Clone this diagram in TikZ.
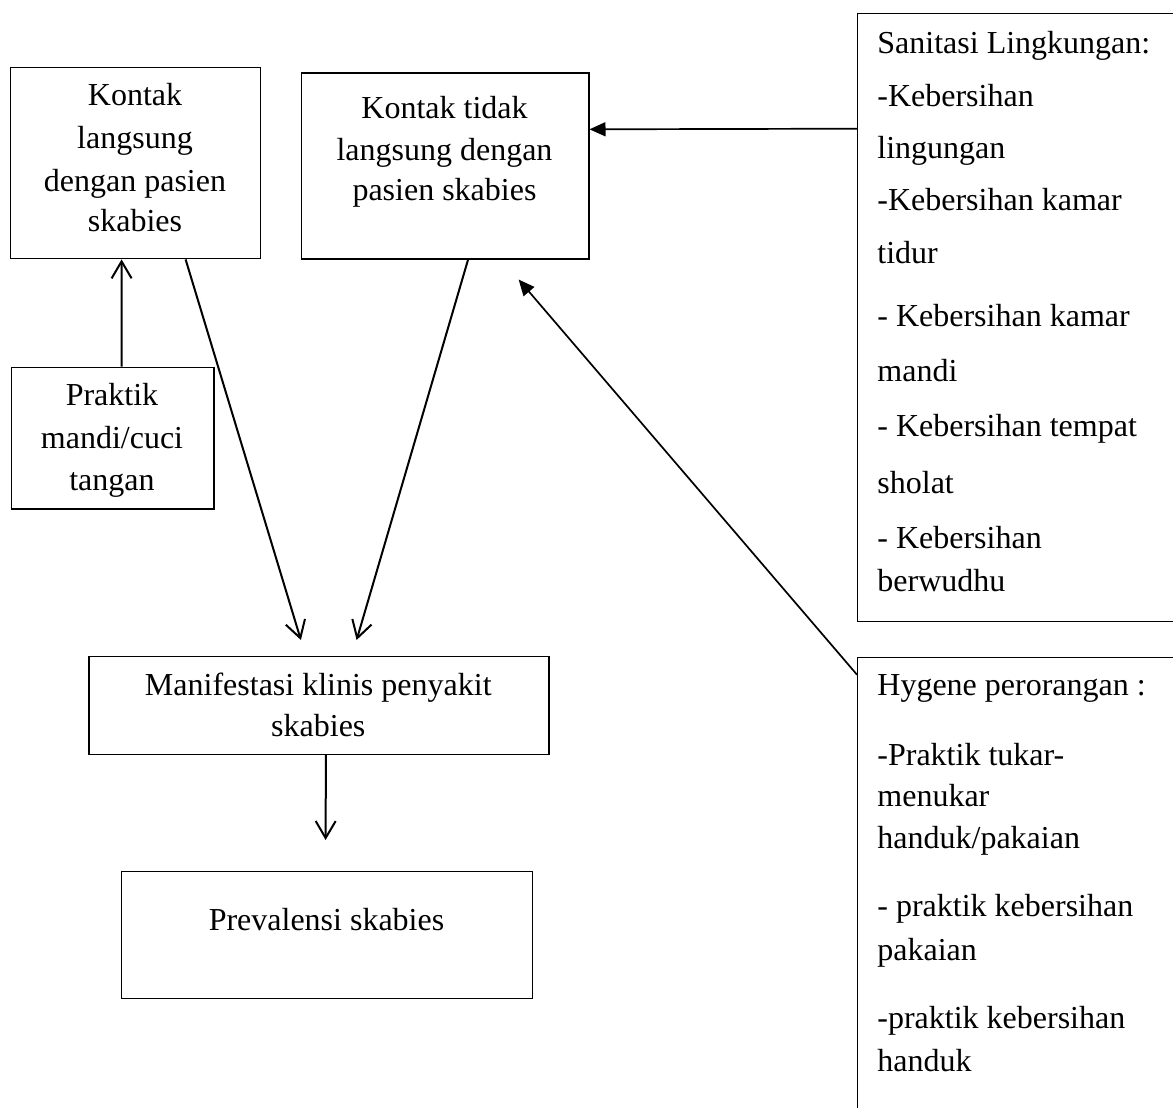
\documentclass[tikz,border=0pt]{standalone}
\usepackage{fontspec}
\setmainfont{Liberation Serif}
\usetikzlibrary{arrows.meta,calc}
\begin{document}
\begin{tikzpicture}[x=0.5pt, y=-0.5pt,
  box/.style={draw, line width=0.6pt, anchor=north west, inner sep=0pt},
  txt/.style={anchor=base, inner sep=0pt, font=\fontsize{16pt}{19pt}\selectfont},
  ltxt/.style={txt, anchor=base west},
  open/.style={line width=1pt, -{Straight Barb[length=8.5pt,width=10pt]}},
  filled/.style={line width=0.85pt, -{Triangle[length=8pt,width=7pt]}}]
\useasboundingbox (0,0) rectangle (1173,1108);
%% boxes
\node[box, minimum width=125pt, minimum height=95.6pt] (kl) at (10,67) {};
\node[box, minimum width=143.8pt, minimum height=93pt] (tl) at (300.7,72.3) {};
\node[box, minimum width=101.3pt, minimum height=70.8pt] (pm) at (10.7,366.7) {};
\node[box, minimum width=230pt, minimum height=49pt] (mk) at (88.3,656) {};
\node[box, minimum width=205.5pt, minimum height=63.5pt] (pv) at (121,871) {};
\node[box, minimum width=164pt, minimum height=303.9pt] (sl) at (857,12.7) {};
\node[box, minimum width=164pt, minimum height=232pt] (hp) at (857,656.7) {};
%% kontak langsung
\node[txt] (kl1) at (135,105.7) {Kontak};
\node[txt] (kl2) at (135,148.3) {langsung};
\node[txt] (kl3) at (135,191.7) {dengan pasien};
\node[txt] (kl4) at (135,231.7) {skabies};
%% kontak tidak langsung
\node[txt] (tl1) at (444.5,118.3) {Kontak tidak};
\node[txt] (tl2) at (444.5,160) {langsung dengan};
\node[txt] (tl3) at (444.5,200) {pasien skabies};
%% praktik mandi
\node[txt] (pm1) at (112,405.7) {Praktik};
\node[txt] (pm2) at (112,448.3) {mandi/cuci};
\node[txt] (pm3) at (112,490) {tangan};
%% manifestasi, prevalensi
\node[txt] (mk1) at (318.3,695) {Manifestasi klinis penyakit};
\node[txt] (mk2) at (318.3,736.7) {skabies};
\node[txt] (pv1) at (326.5,930) {Prevalensi skabies};
%% sanitasi lingkungan
\node[ltxt] (sl1) at (877,53.3) {Sanitasi Lingkungan:};
\node[ltxt] (sl2) at (877,106.7) {-Kebersihan};
\node[ltxt] (sl3) at (877,158) {lingungan};
\node[ltxt] (sl4) at (877,210) {-Kebersihan kamar};
\node[ltxt] (sl5) at (877,263) {tidur};
\node[ltxt] (sl6) at (877,326.7) {- Kebersihan kamar};
\node[ltxt] (sl7) at (877,381.7) {mandi};
\node[ltxt] (sl8) at (877,436.7) {- Kebersihan tempat};
\node[ltxt] (sl9) at (877,493.3) {sholat};
\node[ltxt] (sl10) at (877,548.3) {- Kebersihan};
\node[ltxt] (sl11) at (877,591.7) {berwudhu};
%% hygene perorangan
\node[ltxt] (hp1) at (877,695) {Hygene perorangan :};
\node[ltxt] (hp2) at (877,765) {-Praktik tukar-};
\node[ltxt] (hp3) at (877,806.7) {menukar};
\node[ltxt] (hp4) at (877,848.3) {handuk/pakaian};
\node[ltxt] (hp5) at (877,916.7) {- praktik kebersihan};
\node[ltxt] (hp6) at (877,960) {pakaian};
\node[ltxt] (hp7) at (877,1028.3) {-praktik kebersihan};
\node[ltxt] (hp8) at (877,1071.7) {handuk};
%% arrows
\draw[open] ($(pm.north)+(9,0)$) -- ($(kl.south)+(-14,0)$);
\draw[open] ($(kl.south)+(50,0)$) -- ($(mk.north)+(-18,-16)$);
\draw[open] ($(tl.south)+(23,0)$) -- ($(mk.north)+(37.7,-16)$);
\draw[open] ($(mk.south)+(7,0)$) -- ($(pv.north)+(-1.5,-31)$);
\draw[filled] ($(sl.north west)+(0,116)$) -- ($(tl.north east)+(0,57)$);
\draw[filled] ($(hp.north west)+(0,18)$) -- ($(tl.south)+(73.5,20)$);
\end{tikzpicture}
\end{document}
